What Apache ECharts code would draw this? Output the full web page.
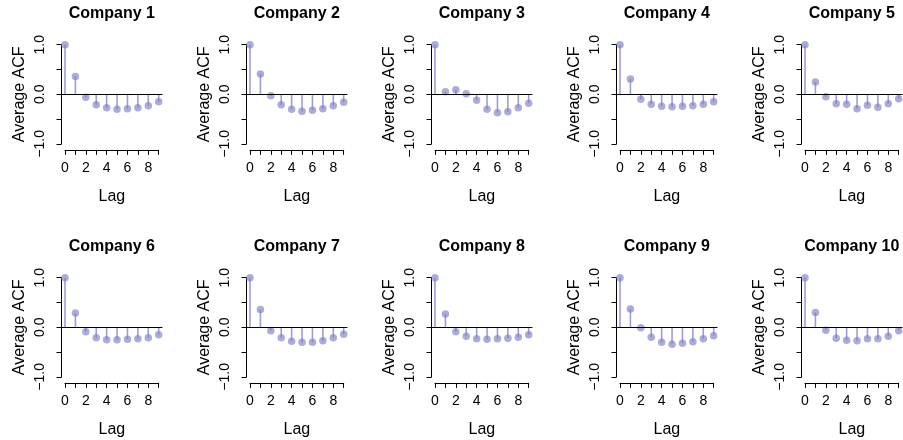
<!DOCTYPE html>
<html>
<head>
<meta charset="utf-8">
<script src="https://cdn.jsdelivr.net/npm/echarts@6/dist/echarts.min.js"></script>
<style>
  html, body { margin: 0; padding: 0; background: #ffffff; }
  #chart { width: 903px; height: 440px; }
</style>
</head>
<body>
<div id="chart"></div>
<script>
// Average autocorrelation by lag for each company
const lags = [0, 1, 2, 3, 4, 5, 6, 7, 8, 9];
const companies = ['Company 1', 'Company 2', 'Company 3', 'Company 4', 'Company 5',
                   'Company 6', 'Company 7', 'Company 8', 'Company 9', 'Company 10'];
const acf1  = [1.00, 0.36, -0.06, -0.21, -0.27, -0.30, -0.29, -0.27, -0.23, -0.15];
const acf2  = [1.00, 0.41, -0.03, -0.21, -0.30, -0.34, -0.32, -0.29, -0.23, -0.16];
const acf3  = [1.00, 0.05,  0.09,  0.01, -0.12, -0.30, -0.37, -0.35, -0.27, -0.18];
const acf4  = [1.00, 0.31, -0.10, -0.20, -0.24, -0.25, -0.24, -0.23, -0.20, -0.15];
const acf5  = [1.00, 0.25, -0.05, -0.19, -0.20, -0.29, -0.22, -0.26, -0.19, -0.09];
const acf6  = [1.00, 0.29, -0.09, -0.21, -0.25, -0.25, -0.24, -0.23, -0.21, -0.15];
const acf7  = [1.00, 0.36, -0.07, -0.21, -0.28, -0.30, -0.30, -0.27, -0.21, -0.14];
const acf8  = [1.00, 0.27, -0.09, -0.18, -0.23, -0.24, -0.23, -0.22, -0.20, -0.15];
const acf9  = [1.00, 0.37, -0.01, -0.20, -0.30, -0.34, -0.32, -0.29, -0.23, -0.17];
const acf10 = [1.00, 0.30, -0.06, -0.22, -0.26, -0.27, -0.23, -0.23, -0.18, -0.07];
const acfValues = [acf1, acf2, acf3, acf4, acf5, acf6, acf7, acf8, acf9, acf10];

const FONT = '"Liberation Sans", Arial, Helvetica, sans-serif';
const STEM_COLOR = 'rgba(140,140,212,0.85)';
const POINT_COLOR = 'rgba(125,125,198,0.8)';

// Panel layout (pixels)
const COL_STEP = 185, ROW_STEP = 233;
const X0 = 65, Y0 = 44.7;          // position of lag 0 / ACF 1.0 in the first panel
const PX_PER_LAG = 10.41, PX_PER_UNIT = 49.6;
const PAD_X = 0.36, PAD_Y = 0.08;   // 4% range expansion of the plotting region

const grids = [], xAxes = [], yAxes = [], series = [], titles = [];

companies.forEach((name, i) => {
  const col = i % 5, row = Math.floor(i / 5);
  const left = X0 + col * COL_STEP;
  const top = Y0 + row * ROW_STEP;
  const w = PX_PER_LAG * 9, h = PX_PER_UNIT * 2;

  // grid for axes (data range 0..9, -1..1), axes drawn slightly offset outside
  grids.push({ left: left, top: top, width: w, height: h, containLabel: false });
  // extended plotting region for the zero reference line
  grids.push({
    left: left - PAD_X * PX_PER_LAG, top: top - PAD_Y * PX_PER_UNIT,
    width: w + 2 * PAD_X * PX_PER_LAG, height: h + 2 * PAD_Y * PX_PER_UNIT, containLabel: false
  });
  const gA = grids.length - 2, gB = grids.length - 1;

  xAxes.push({
    gridIndex: gA, type: 'value', position: 'bottom', min: 0, max: 9, interval: 1, offset: 6,
    axisLine: { show: true, onZero: false, lineStyle: { color: '#000', width: 1 } },
    axisTick: { show: true, length: 5, lineStyle: { color: '#000', width: 1 } },
    splitLine: { show: false },
    axisLabel: {
      show: true, margin: 11, color: '#000', fontSize: 14, fontFamily: FONT,
      showMinLabel: true, showMaxLabel: true,
      formatter: v => (v % 2 === 0 ? String(v) : '')
    },
    name: 'Lag', nameLocation: 'middle', nameGap: 39,
    nameTextStyle: { color: '#000', fontSize: 16, fontFamily: FONT }
  });
  yAxes.push({
    gridIndex: gA, type: 'value', position: 'left', min: -1, max: 1, interval: 0.5, offset: 3.5,
    axisLine: { show: true, onZero: false, lineStyle: { color: '#000', width: 1 } },
    axisTick: { show: true, length: 5, lineStyle: { color: '#000', width: 1 } },
    splitLine: { show: false },
    axisLabel: {
      show: true, rotate: 90, margin: 14, color: '#000', fontSize: 14, fontFamily: FONT,
      showMinLabel: true, showMaxLabel: true,
      formatter: v => (v === 1 ? '1.0' : v === 0 ? '0.0' : v === -1 ? '\u22121.0' : '')
    },
    name: 'Average ACF', nameLocation: 'middle', nameGap: 34, nameRotate: 90,
    nameTextStyle: { color: '#000', fontSize: 16, fontFamily: FONT }
  });
  xAxes.push({
    gridIndex: gB, type: 'value', min: -PAD_X, max: 9 + PAD_X, show: false
  });
  yAxes.push({
    gridIndex: gB, type: 'value', min: -1 - PAD_Y, max: 1 + PAD_Y, show: false
  });
  const xA = xAxes.length - 2, yA = yAxes.length - 2;
  const xB = xAxes.length - 1, yB = yAxes.length - 1;

  const pts = lags.map((l, k) => [l, acfValues[i][k]]);

  // horizontal reference line at zero across the plotting region
  series.push({
    type: 'line', xAxisIndex: xB, yAxisIndex: yB, data: [], silent: true,
    markLine: {
      silent: true, symbol: 'none', label: { show: false },
      lineStyle: { color: '#000', width: 1, type: 'solid' },
      data: [{ yAxis: 0 }]
    }
  });
  // vertical stems
  series.push({
    type: 'bar', xAxisIndex: xA, yAxisIndex: yA, data: pts, barWidth: 1.6,
    itemStyle: { color: STEM_COLOR }, silent: true, animation: false
  });
  // points at the top of each stem
  series.push({
    type: 'scatter', xAxisIndex: xA, yAxisIndex: yA, data: pts, symbolSize: 7.5,
    itemStyle: { color: POINT_COLOR }, silent: true, animation: false
  });

  titles.push({
    text: name, left: left + w / 2, textAlign: 'center', padding: 0,
    top: 6 + row * ROW_STEP,
    textStyle: { color: '#000', fontSize: 16, fontWeight: 'bold', fontFamily: FONT }
  });
});

const chart = echarts.init(document.getElementById('chart'), null, { renderer: 'canvas' });
chart.setOption({
  animation: false,
  backgroundColor: '#ffffff',
  title: titles,
  grid: grids,
  xAxis: xAxes,
  yAxis: yAxes,
  series: series
});
</script>
</body>
</html>
